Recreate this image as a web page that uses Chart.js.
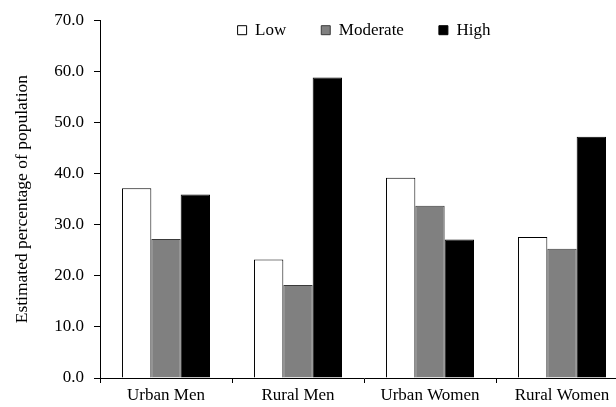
<!DOCTYPE html>
<html>
<head>
<meta charset="utf-8">
<script src="https://cdn.jsdelivr.net/npm/chart.js@4/dist/chart.umd.min.js"></script>
<style>
    html, body { margin: 0; padding: 0; background: #fff; overflow: hidden; }
    /* plot runs a bit past the right edge, like the source image */
    #wrap { position: relative; width: 628px; height: 407px; }
</style>
</head>
<body>
<div id="wrap"><canvas id="activityChart"></canvas></div>
<script>
// Data
const groups = ['Urban Men', 'Rural Men', 'Urban Women', 'Rural Women'];
const low = [37.1, 23.2, 39.2, 27.6];
const moderate = [27.2, 18.2, 33.7, 25.3];
const high = [35.9, 58.8, 27.1, 47.2];
const yTicks = [0, 10, 20, 30, 40, 50, 60, 70];

const serif = 'Liberation Serif, Times New Roman, serif';

// legend takes no room in the layout (maxHeight) and is drawn inside the plot
// near the top; give its box back a real height so it isn't clipped away
const legendNudge = {
    id: 'legendNudge',
    afterLayout(chart) {
        const lg = chart.legend;
        if (!lg) return;
        const shift = lg.options.labels.padding - 1.5;
        lg.top -= shift;
        lg.height = 80;
        lg.bottom = lg.top + lg.height;
    }
};

const createActivityChart = () => {
    const ctx = document.getElementById('activityChart')?.getContext('2d');
    if (!ctx) return;
    new Chart(ctx, {
        type: 'bar',
        data: {
            labels: groups,
            datasets: [{
                label: 'Low',
                data: low,
                backgroundColor: '#ffffff',
                borderColor: '#000000',
                borderWidth: 1
            }, {
                label: 'Moderate',
                data: moderate,
                backgroundColor: '#808080',
                borderColor: '#3a3a3a',
                borderWidth: 1
            }, {
                label: 'High',
                data: high,
                backgroundColor: '#000000',
                borderColor: '#000000',
                borderWidth: 1
            }]
        },
        options: {
            responsive: true,
            maintainAspectRatio: false,
            animation: false,
            categoryPercentage: 0.667,
            barPercentage: 1.0,
            layout: {
                padding: { top: 19, left: 0, right: 0, bottom: 0 }
            },
            plugins: {
                legend: {
                    position: 'top',
                    align: 'center',
                    fullSize: false,
                    maxHeight: 0.01,
                    labels: {
                        color: '#000',
                        boxWidth: 9,
                        boxHeight: 9,
                        padding: 35,
                        font: { family: serif, size: 17 }
                    }
                },
                tooltip: { enabled: false }
            },
            scales: {
                x: {
                    grid: {
                        display: true,
                        drawOnChartArea: false,
                        drawTicks: true,
                        tickLength: 5,
                        color: '#000'
                    },
                    border: { color: '#000', width: 1 },
                    ticks: {
                        color: '#000',
                        padding: 2,
                        font: { family: serif, size: 17 }
                    },
                    afterFit: (s) => { s.height = 29; }
                },
                y: {
                    min: 0,
                    max: 70,
                    afterBuildTicks: (s) => { s.ticks = yTicks.map(v => ({ value: v })); },
                    grid: {
                        display: true,
                        drawOnChartArea: false,
                        drawTicks: true,
                        tickLength: 6,
                        color: '#000'
                    },
                    border: { color: '#000', width: 1 },
                    ticks: {
                        color: '#000',
                        padding: 10,
                        font: { family: serif, size: 17 },
                        callback: (v) => Number(v).toFixed(1)
                    },
                    title: {
                        display: true,
                        text: 'Estimated percentage of population',
                        color: '#000',
                        padding: { top: 12, bottom: 0 },
                        font: { family: serif, size: 17.5 }
                    },
                    afterFit: (s) => { s.width = 100; }
                }
            }
        },
        plugins: [legendNudge]
    });
};

document.addEventListener('DOMContentLoaded', function() {
    createActivityChart();
});
</script>
</body>
</html>
